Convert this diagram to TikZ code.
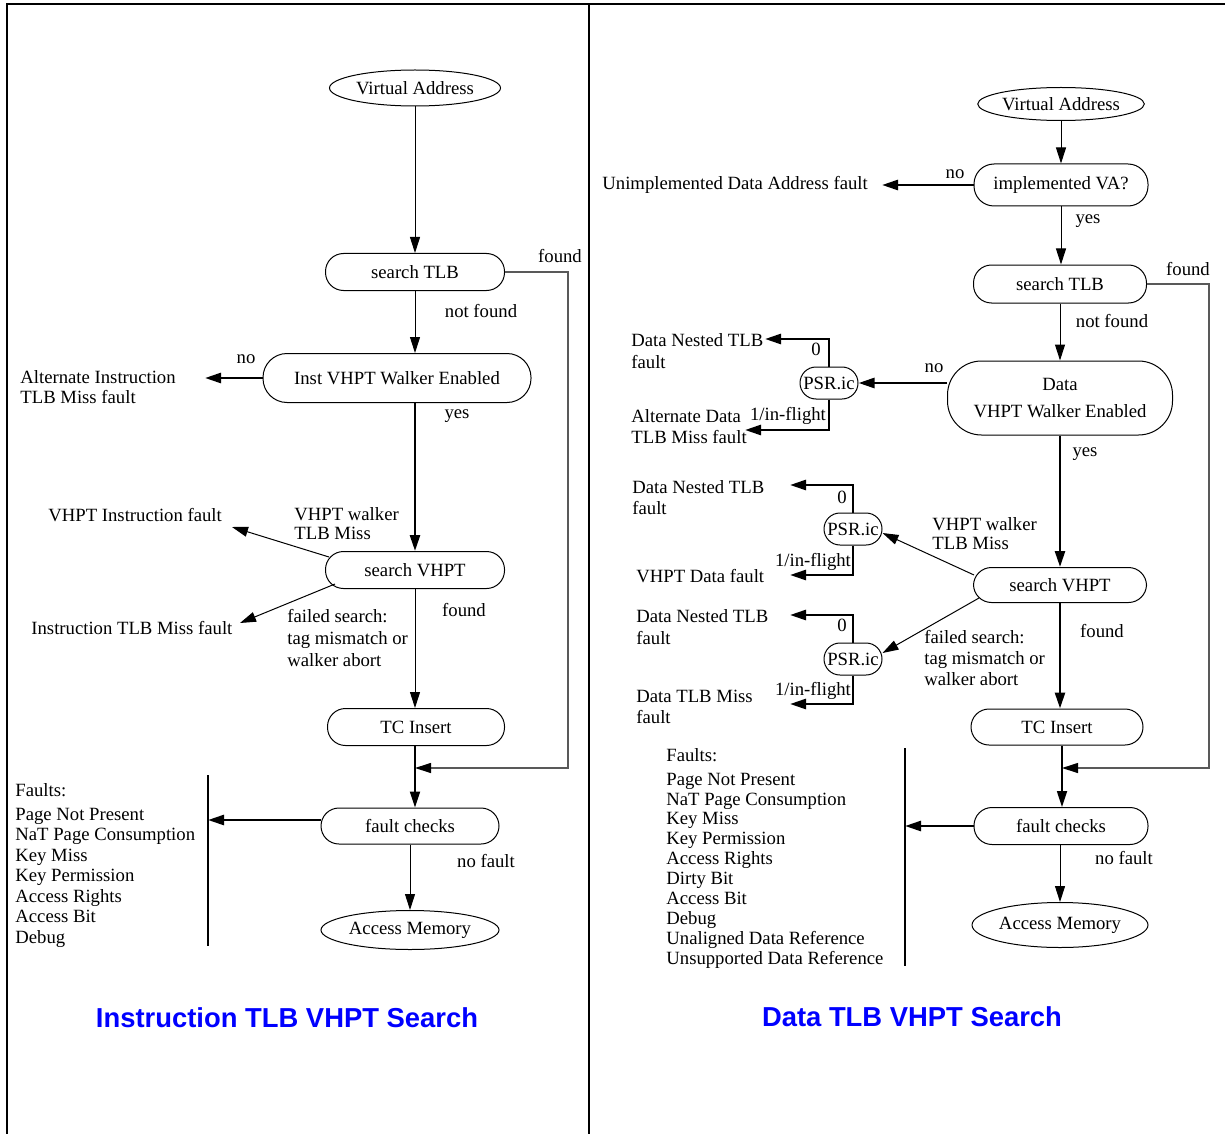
\documentclass[tikz,border=0pt]{standalone}
\usepackage{fontspec}
\setmainfont{Liberation Serif}
\newfontfamily\titlefont{Liberation Sans}
\usetikzlibrary{shapes.geometric,arrows.meta}
\begin{document}
\begin{tikzpicture}[x=0.5pt,y=-0.5pt,
 every node/.style={font=\fontsize{9.35}{10.5}\selectfont},
 thinl/.style={line width=0.5pt},
 medl/.style={line width=0.9pt},
 thickl/.style={line width=1.3pt},
 arr/.style={-{Triangle[length=8pt,width=5pt,color=black]}},
 proc/.style={draw, line width=0.5pt, rounded corners=9pt, inner sep=0pt},
 oval/.style={draw, ellipse, line width=0.5pt, inner sep=0pt},
 lbl/.style={anchor=base west, inner sep=0pt},
 clbl/.style={anchor=base, inner sep=0pt},
 mlbl/.style={anchor=north west, inner sep=0pt, align=left},
 loopl/.style={draw=black!65, line width=0.6pt},
 ttl/.style={anchor=base, inner sep=0pt, text=blue, font=\titlefont\bfseries\fontsize{13.7}{16}\selectfont}
]
\useasboundingbox (0,0) rectangle (1225,1134);
\draw[line width=0.6pt] (7,1134) -- (7,4) -- (1225,4);
\draw[line width=0.6pt] (589,4) -- (589,1134);

% ================= LEFT PANEL =================
\node[oval, minimum width=85.5pt, minimum height=18pt] (va1) at (415,88) {Virtual Address};
\node[proc, minimum width=89.5pt, minimum height=18.5pt] (stlb1) at (415,272) {search TLB};
\node[proc, minimum width=134pt, minimum height=24.5pt, rounded corners=12pt] (walk1) at (397,378) {Inst VHPT Walker Enabled};
\node[proc, minimum width=89.5pt, minimum height=18.5pt] (svhpt1) at (415,570) {search VHPT};
\node[proc, minimum width=88.5pt, minimum height=18.5pt] (tc1) at (416,727) {TC Insert};
\node[proc, minimum width=89pt, minimum height=18pt] (fc1) at (410,826) {fault checks};
\node[oval, minimum width=89pt, minimum height=19.5pt] (am1) at (410,930) {Access Memory};

\coordinate (alt1) at (205,378);
\coordinate (vif1) at (232,527);
\coordinate (itm1) at (240,623);
\coordinate (j1) at (415,768);
\coordinate (bar1t) at (208,775);
\coordinate (bar1b) at (208,946);
\coordinate (bar1a) at (208,820);

\draw[thinl, arr] (va1.south) -- (stlb1.north);
\draw[thinl, arr] (stlb1.south) -- (stlb1.south |- walk1.north);
\draw[thickl, arr] (walk1.west) -- (alt1);
\draw[thickl, arr] (stlb1.south |- walk1.south) -- (svhpt1.north);
\draw[thinl, arr] ([shift={(2pt,6.5pt)}]svhpt1.west) -- (vif1);
\draw[thinl, arr] ([shift={(5pt,-7pt)}]svhpt1.west) -- (itm1);
\draw[thinl, arr] (svhpt1.south) -- (svhpt1.south |- tc1.north);
\draw[loopl, arr] (stlb1.east) -| (568,768) -- (j1);
\draw[medl, arr] (tc1.south -| j1) -- (j1 |- fc1.north);
\draw[thickl, arr] ([yshift=3pt]fc1.west) -- (bar1a);
\draw[thickl] (bar1t) -- (bar1b);
\draw[thinl, arr] (fc1.south) -- (am1.north);

\node[clbl] (l1a) at (560,263) {found};
\node[clbl] (l1b) at (481,317) {not found};
\node[clbl] (l1c) at (246,363) {no};
\node[clbl] (l1d) at (457,418) {yes};
\node[mlbl, font=\fontsize{9.35}{10}\selectfont] (l1e) at (20,370.5) {Alternate Instruction\\TLB Miss fault};
\node[lbl] (l1f) at (48,521) {VHPT Instruction fault};
\node[mlbl, font=\fontsize{9.35}{9.5}\selectfont] (l1g) at (294,507.5) {VHPT walker\\TLB Miss};
\node[lbl] (l1h) at (31,634) {Instruction TLB Miss fault};
\node[mlbl, font=\fontsize{9.35}{11}\selectfont] (l1i) at (287,608.5) {failed search:\\tag mismatch or\\walker abort};
\node[clbl] (l1j) at (464,616) {found};
\node[clbl] (l1k) at (486,867) {no fault};
\node[lbl] (l1l) at (15,796) {Faults:};
\node[mlbl, font=\fontsize{9.35}{10.25}\selectfont] (l1m) at (15,807.5) {Page Not Present\\NaT Page Consumption\\Key Miss\\Key Permission\\Access Rights\\Access Bit\\Debug};
\node[ttl] (t1) at (287,1027) {Instruction TLB VHPT Search};

% ================= RIGHT PANEL =================
\node[oval, minimum width=82.5pt, minimum height=16.5pt] (va2) at (1061,104) {Virtual Address};
\node[proc, minimum width=87pt, minimum height=21pt, rounded corners=10pt] (impl) at (1061,185) {implemented VA?};
\node[proc, minimum width=86.5pt, minimum height=19pt] (stlb2) at (1060,284) {search TLB};
\node[proc, minimum width=112.5pt, minimum height=37pt, rounded corners=17pt, align=center, font=\fontsize{9.35}{13.5}\selectfont] (walk2) at (1060,398) {Data\\VHPT Walker Enabled};
\node[proc, minimum width=29pt, minimum height=16pt, rounded corners=8pt] (psr1) at (829,383) {PSR.ic};
\node[proc, minimum width=29pt, minimum height=16pt, rounded corners=8pt] (psr2) at (853,529) {PSR.ic};
\node[proc, minimum width=29pt, minimum height=16pt, rounded corners=8pt] (psr3) at (853,659) {PSR.ic};
\node[proc, minimum width=86.5pt, minimum height=17.5pt] (svhpt2) at (1060,585) {search VHPT};
\node[proc, minimum width=86pt, minimum height=18pt] (tc2) at (1057,727) {TC Insert};
\node[proc, minimum width=87pt, minimum height=18.5pt] (fc2) at (1061,826) {fault checks};
\node[oval, minimum width=88pt, minimum height=22.5pt] (am2) at (1060,925) {Access Memory};

\coordinate (unimp) at (882,185);
\coordinate (dn1) at (765,339);
\coordinate (ad1) at (745,430);
\coordinate (dn2) at (790,485);
\coordinate (vd2) at (790,575);
\coordinate (dn3) at (790,615);
\coordinate (dt3) at (790,704);
\coordinate (j2) at (1062,768);
\coordinate (bar2t) at (905,748);
\coordinate (bar2b) at (905,966);
\coordinate (bar2a) at (905,826);

\draw[thinl, arr] (va2.south) -- (impl.north);
\draw[thickl, arr] (impl.west) -- (unimp);
\draw[thinl, arr] (impl.south) -- (impl.south |- stlb2.north);
\draw[thinl, arr] (stlb2.south) -- (stlb2.south |- walk2.north);
\draw[loopl, arr] (stlb2.east) -| (1209,768) -- (j2);
\draw[thickl, arr] ([yshift=7.5pt]walk2.west) -- (psr1.east);
\draw[thickl, arr] (psr1.north) |- (dn1);
\draw[thickl, arr] (psr1.south) |- (ad1);
\draw[thickl, arr] (walk2.south) -- (walk2.south |- svhpt2.north);
\draw[thinl, arr] ([shift={(0.5pt,5pt)}]svhpt2.west) -- ([yshift=-2pt]psr2.east);
\draw[thickl, arr] (psr2.north) |- (dn2);
\draw[thickl, arr] (psr2.south) |- (vd2);
\draw[thinl, arr] ([shift={(3pt,-6.5pt)}]svhpt2.west) -- ([yshift=3pt]psr3.east);
\draw[thickl, arr] (psr3.north) |- (dn3);
\draw[thickl, arr] (psr3.south) |- (dt3);
\draw[thickl, arr] (svhpt2.south) -- (svhpt2.south |- tc2.north);
\draw[medl, arr] (j2 |- tc2.south) -- (j2 |- fc2.north);
\draw[thickl, arr] (fc2.west) -- (bar2a);
\draw[thickl] (bar2t) -- (bar2b);
\draw[thinl, arr] (fc2.south -| am2.north) -- (am2.north);

\node[lbl] (r1) at (602,190) {Unimplemented Data Address fault};
\node[clbl] (r2) at (955,179) {no};
\node[clbl] (r3) at (1088,224) {yes};
\node[clbl] (r4) at (1188,275) {found};
\node[clbl] (r5) at (1112,327) {not found};
\node[clbl] (r6) at (934,372) {no};
\node[clbl] (r7) at (816,355) {0};
\node[mlbl, font=\fontsize{9.35}{11}\selectfont] (r8) at (631,333.5) {Data Nested TLB\\fault};
\node[clbl] (r9) at (788,420) {1/in-flight};
\node[mlbl, font=\fontsize{9.35}{10.5}\selectfont] (r10) at (631,409.5) {Alternate Data\\TLB Miss fault};
\node[clbl] (r11) at (1085,456) {yes};
\node[mlbl, font=\fontsize{9.35}{9.5}\selectfont] (r12) at (932,517.5) {VHPT walker\\TLB Miss};
\node[clbl] (r13) at (842,503) {0};
\node[mlbl, font=\fontsize{9.35}{10.5}\selectfont] (r14) at (632,480.5) {Data Nested TLB\\fault};
\node[clbl] (r15) at (813,566) {1/in-flight};
\node[lbl] (r16) at (636,582) {VHPT Data fault};
\node[clbl] (r17) at (842,631) {0};
\node[mlbl, font=\fontsize{9.35}{11}\selectfont] (r18) at (636,609.5) {Data Nested TLB\\fault};
\node[clbl] (r19) at (813,695) {1/in-flight};
\node[mlbl, font=\fontsize{9.35}{10.5}\selectfont] (r20) at (636,689.5) {Data TLB Miss\\fault};
\node[mlbl, font=\fontsize{9.35}{10.5}\selectfont] (r21) at (924,629.5) {failed search:\\tag mismatch or\\walker abort};
\node[clbl] (r22) at (1102,637) {found};
\node[clbl] (r23) at (1124,864) {no fault};
\node[lbl] (r24) at (666,761) {Faults:};
\node[mlbl, font=\fontsize{9.35}{9.95}\selectfont] (r25) at (666,772.5) {Page Not Present\\NaT Page Consumption\\Key Miss\\Key Permission\\Access Rights\\Dirty Bit\\Access Bit\\Debug\\Unaligned Data Reference\\Unsupported Data Reference};
\node[ttl] (t2) at (912,1026) {Data TLB VHPT Search};
\end{tikzpicture}
\end{document}
